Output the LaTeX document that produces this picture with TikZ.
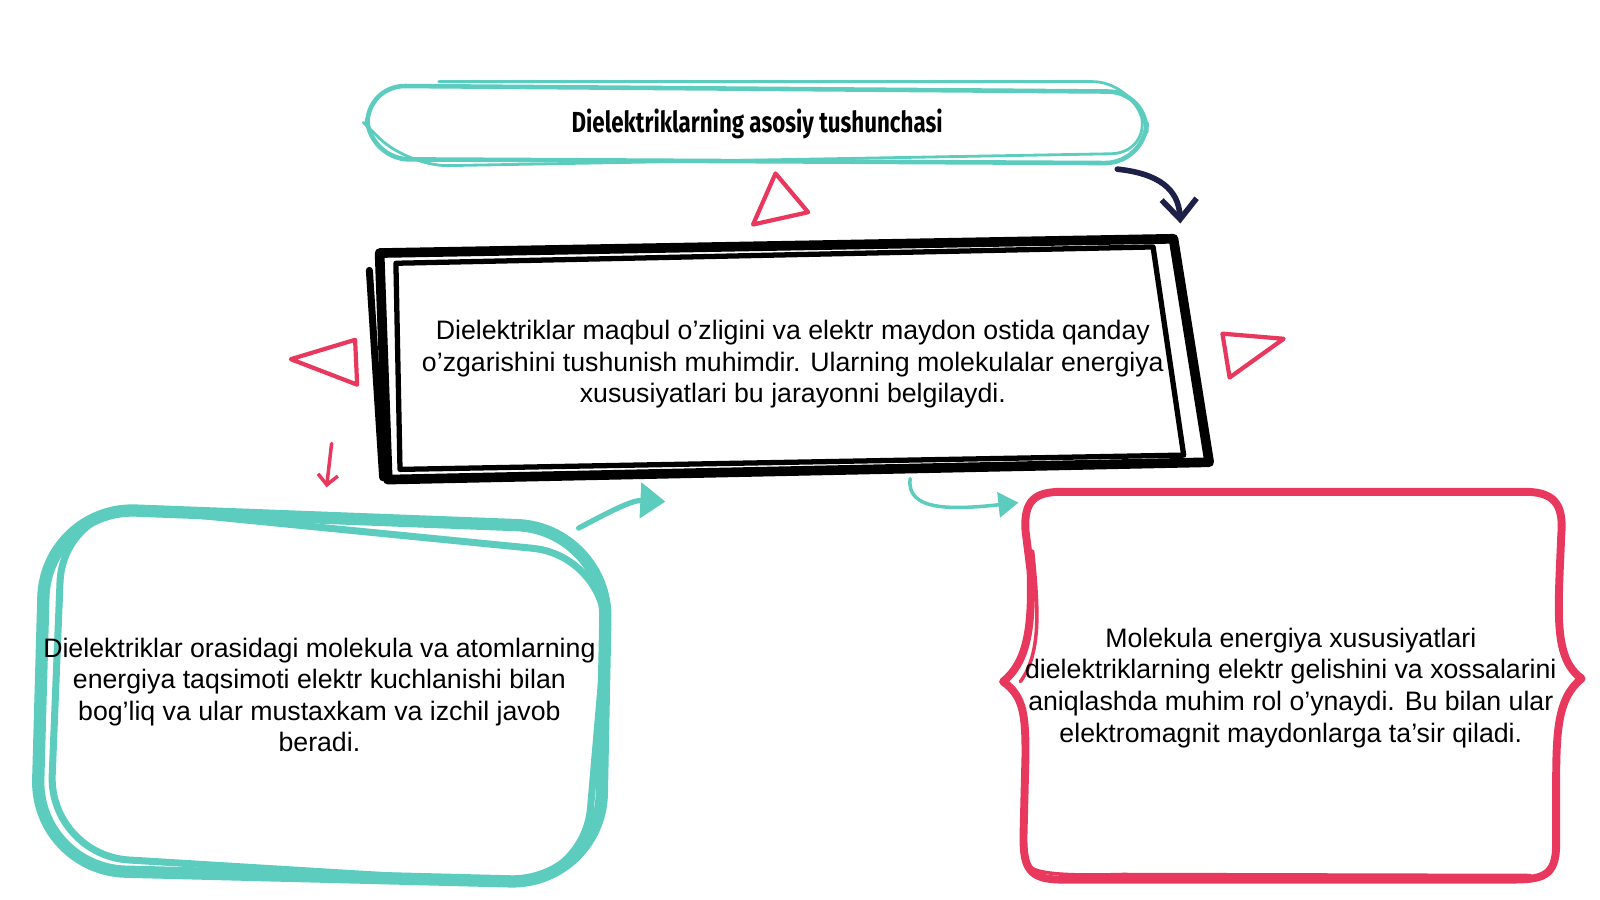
\documentclass[tikz,border=0pt]{standalone}
\usepackage{fontspec}
\setmainfont{Liberation Sans}
\newfontfamily\headfont{Fira Sans}[FakeStretch=0.77]
\usetikzlibrary{positioning}
\usetikzlibrary{arrows.meta}
\definecolor{sea}{RGB}{92,204,190}
\definecolor{rose}{RGB}{232,56,94}
\definecolor{ink}{RGB}{30,32,72}
\tikzset{body/.style = {align=center, inner sep=0, font=\fontsize{15.2}{18}\selectfont}}
\tikzset{head/.style = {minimum width=157mm, minimum height=16.5mm, inner sep=0,
                        font=\headfont\bfseries\fontsize{16.5}{19}\selectfont}}
\tikzset{flag/.style = {draw=rose, line width=2.4pt, line join=round}}
\tikzset{pen/.style = {line cap=round, line join=round}}

\begin{document}
\begin{tikzpicture}[x=0.2041mm, y=-0.2041mm]
    \useasboundingbox (0, 0) rectangle (1568, 882);

    % outlines
    \draw [pen, sea, line width=2.6pt, rounded corners=8mm]
        (358, 84) -- (1125, 90) -- (1122, 160) -- (362, 156) -- cycle;
    \draw [pen, sea, line width=1.6pt, rounded corners=8mm]
        (430, 80) -- (1110, 80) -- (1128, 150) -- (400, 163) -- (356, 120);

    \draw [pen, black, line width=5.5pt] (372, 248) -- (1150, 234) -- (1185, 453) -- (380, 470) -- cycle;
    \draw [pen, black, line width=3pt] (388, 258) -- (1130, 242) -- (1160, 446) -- (392, 460) -- cycle;
    \draw [pen, black, line width=4pt] (362, 265) -- (375, 468);

    \draw [pen, sea, line width=7pt, rounded corners=18mm]
        (45, 497) -- (595, 518) -- (588, 866) -- (35, 852) -- cycle;
    \draw [pen, sea, line width=4pt, rounded corners=16mm]
        (62, 492) -- (600, 545) -- (572, 870) -- (48, 838) -- cycle;

    \draw [pen, rose, line width=4.5pt]
        (1040, 482) -- (1495, 482) .. controls (1528, 482) and (1532, 500) .. (1530, 525)
        .. controls (1527, 600) and (1522, 645) .. (1550, 665)
        .. controls (1525, 685) and (1525, 720) .. (1525, 780) -- (1525, 828)
        .. controls (1525, 860) and (1510, 862) .. (1480, 862) -- (1040, 862)
        .. controls (1008, 862) and (1003, 850) .. (1003, 820) -- (1005, 740)
        .. controls (1005, 700) and (1003, 682) .. (983, 668)
        .. controls (1005, 650) and (1012, 620) .. (1010, 560) -- (1005, 520)
        .. controls (1003, 490) and (1015, 482) .. (1040, 482) -- cycle;
    \draw [pen, rose, line width=2pt]
        (1012, 540) .. controls (1018, 600) and (1020, 640) .. (1000, 668);
    \draw [pen, rose, line width=2pt]
        (1010, 850) .. controls (1020, 858) and (1060, 858) .. (1100, 857) -- (1500, 858);

    \node [head] (title) at (742, 121) {Dielektriklarning asosiy tushunchasi};
    \node [body, minimum width=161mm, minimum height=46mm] (core) at (777, 357)
        {Dielektriklar maqbul o’zligini va elektr maydon ostida qanday\\
         o’zgarishini tushunish muhimdir. Ularning molekulalar energiya\\
         xususiyatlari bu jarayonni belgilaydi.};
    \node [body, minimum width=115mm, minimum height=78mm] (left) at (313, 681)
        {Dielektriklar orasidagi molekula va atomlarning\\
         energiya taqsimoti elektr kuchlanishi bilan\\
         bog’liq va ular mustaxkam va izchil javob\\
         beradi.};
    \node [body, minimum width=108mm, minimum height=78mm] (right) at (1265, 674)
        {Molekula energiya xususiyatlari\\
         dielektriklarning elektr gelishini va xossalarini\\
         aniqlashda muhim rol o’ynaydi. Bu bilan ular\\
         elektromagnit maydonlarga ta’sir qiladi.};

    % marks
    \draw [flag] (760, 170) -- (792, 208) -- (738, 220) -- cycle;
    \draw [flag] (285, 352) -- (348, 333) -- (350, 377) -- cycle;
    \draw [flag] (1198, 327) -- (1258, 332) -- (1205, 370) -- cycle;

    % arrows
    \draw [pen, ink, line width=3.2pt, -{Straight Barb[length=4mm, width=7mm]}]
        ([shift={(-32, 4)}]title.south east) .. controls (1135, 170) and (1155, 185)
        .. ([shift={(-15, -25)}]core.north east);
    \draw [pen, rose, line width=2pt, -{Straight Barb[length=2mm, width=4mm]}]
        ([shift={(12, -55)}]left.north) -- ([shift={(7, -12)}]left.north);
    \draw [pen, sea, line width=3pt, -{Triangle[length=5mm, width=7mm]}]
        ([shift={(-28, 28)}]left.north east) .. controls (600, 500) and (620, 490)
        .. ([shift={(57, 2)}]left.north east);
    \draw [pen, sea, line width=2pt, -{Triangle[length=4mm, width=5mm]}]
        ([shift={(115, -1)}]core.south) .. controls (888, 500) and (930, 500)
        .. ([shift={(-2, 10)}]right.north west);
\end{tikzpicture}
\end{document}
